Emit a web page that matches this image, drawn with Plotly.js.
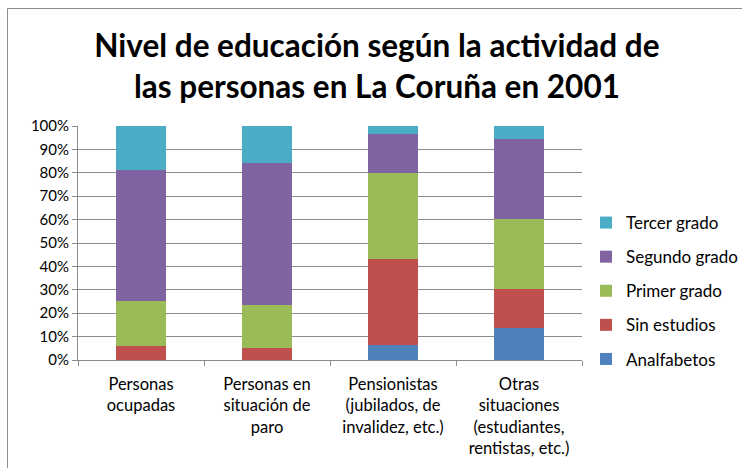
<!DOCTYPE html>
<html>
<head>
<meta charset="utf-8">
<script src="https://cdn.plot.ly/plotly-3.0.1.min.js"></script>
<style>html,body{margin:0;padding:0;background:#fff;}#chart{width:742px;height:468px;}</style>
</head>
<body>
<div id="chart"></div>
<script>
const categories = [
  "Personas<br>ocupadas",
  "Personas en<br>situación de<br>paro",
  "Pensionistas<br>(jubilados, de<br>invalidez, etc.)",
  "Otras<br>situaciones<br>(estudiantes,<br>rentistas, etc.)"
];
const seriesNames = ["Analfabetos", "Sin estudios", "Primer grado", "Segundo grado", "Tercer grado"];
const analfabetos = [0.2, 0.2, 6.3, 13.8];
const sinEstudios = [5.8, 4.9, 37.0, 16.4];
const primerGrado = [19.2, 18.3, 36.5, 30.1];
const segundoGrado = [55.9, 61.0, 16.8, 34.1];
const tercerGrado = [18.9, 15.6, 3.4, 5.6];
const yTickVals = [0, 10, 20, 30, 40, 50, 60, 70, 80, 90, 100];
const yTickLabels = ["0%", "10%", "20%", "30%", "40%", "50%", "60%", "70%", "80%", "90%", "100%"];

const seriesValues = [analfabetos, sinEstudios, primerGrado, segundoGrado, tercerGrado];
const colors = ["#4F81BD", "#C0504D", "#9BBB59", "#8064A2", "#4BACC6"];
const FONT = "Lato, 'Open Sans', sans-serif";

const traces = seriesNames.map((name, i) => ({
  type: "bar",
  name: name,
  x: categories,
  y: seriesValues[i],
  legendgroup: name,
  legendrank: 100 - i,
  marker: {color: colors[i], line: {width: 0}},
  hoverinfo: "name+y"
}));

const L = 78, R = 160, T = 126, B = 108;
const PW = 742 - L - R, PH = 468 - T - B;

const layout = {
  width: 742,
  height: 468,
  margin: {l: L, r: R, t: T, b: B, pad: 0, autoexpand: false},
  paper_bgcolor: "#ffffff",
  plot_bgcolor: "#ffffff",
  barmode: "stack",
  bargap: 0.6,
  font: {family: FONT, color: "#000000", size: 14},
  title: {
    text: "<b>Nivel de educación según la actividad de<br>las personas en La Coruña en 2001</b>",
    font: {family: FONT, size: 31.5, color: "#000000"},
    xref: "container", x: 0.508, xanchor: "center",
    yref: "container", y: 1 - 57/468, yanchor: "middle"
  },
  xaxis: {
    type: "category",
    tickson: "boundaries",
    ticks: "outside",
    ticklen: 5,
    tickcolor: "#8c8c8c",
    ticklabelstandoff: 9,
    showline: true,
    linecolor: "#8c8c8c",
    linewidth: 1,
    showgrid: false,
    tickfont: {family: FONT, size: 16.5, color: "#000000"},
    fixedrange: true
  },
  yaxis: {
    range: [0, 100],
    tickvals: yTickVals,
    ticktext: yTickLabels,
    ticks: "outside",
    ticklen: 5,
    tickcolor: "#8c8c8c",
    showline: true,
    linecolor: "#8c8c8c",
    linewidth: 1,
    showgrid: true,
    gridcolor: "#8c8c8c",
    gridwidth: 1,
    zeroline: false,
    tickfont: {family: FONT, size: 15, color: "#000000"},
    fixedrange: true
  },
  legend: {
    traceorder: "grouped",
    tracegroupgap: 9,
    xref: "container", yref: "container",
    x: 586 / 742, xanchor: "left",
    y: 1 - 205 / 468, yanchor: "top",
    font: {family: FONT, size: 17, color: "#000000"},
    bgcolor: "rgba(0,0,0,0)"
  },
  shapes: [{
    type: "rect",
    xref: "paper", yref: "paper",
    x0: (7.5 - L) / PW, x1: 1 + (R + 20) / PW,
    y0: -(B + 20) / PH, y1: 1 + (T - 8.5) / PH,
    line: {color: "#8c8c8c", width: 1},
    fillcolor: "rgba(0,0,0,0)",
    layer: "below"
  }]
};

Plotly.newPlot("chart", traces, layout, {displayModeBar: false, responsive: false});
</script>
</body>
</html>
